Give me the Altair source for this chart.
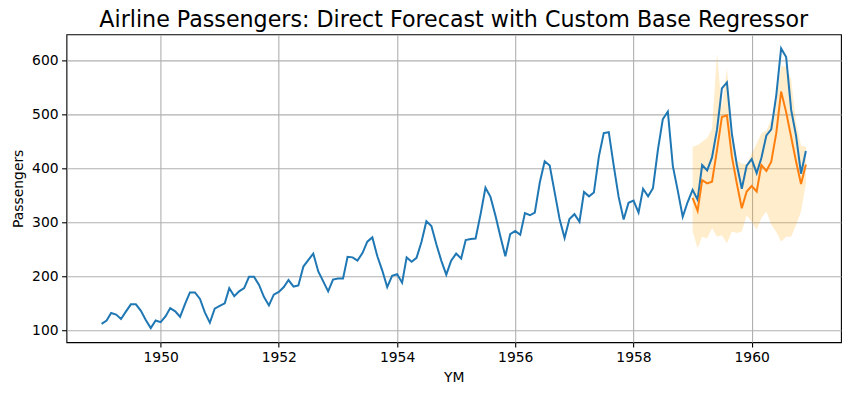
import altair as alt
import pandas as pd

# Monthly airline passengers 1949-01 .. 1960-12
years = list(range(1949, 1961))
passengers = [
    112, 118, 132, 129, 121, 135, 148, 148, 136, 119, 104, 118,
    115, 126, 141, 135, 125, 149, 170, 170, 158, 133, 114, 140,
    145, 150, 178, 163, 172, 178, 199, 199, 184, 162, 146, 166,
    171, 180, 193, 181, 183, 218, 230, 242, 209, 191, 172, 194,
    196, 196, 236, 235, 229, 243, 264, 272, 237, 211, 180, 201,
    204, 188, 235, 227, 234, 264, 302, 293, 259, 229, 203, 229,
    242, 233, 267, 269, 270, 315, 364, 347, 312, 274, 237, 278,
    284, 277, 317, 313, 318, 374, 413, 405, 355, 306, 271, 306,
    315, 301, 356, 348, 355, 422, 465, 467, 404, 347, 305, 336,
    340, 318, 362, 348, 363, 435, 491, 505, 404, 359, 310, 337,
    360, 342, 406, 396, 420, 472, 548, 559, 463, 407, 362, 405,
    417, 391, 419, 461, 472, 535, 622, 606, 508, 461, 390, 432,
]
months = [f"{y}-{m:02d}-01" for y in years for m in range(1, 13)]

# Forecast for 1959-01 .. 1960-12
fc_months = months[-24:]
forecast = [345, 321, 378, 372, 375, 434, 495, 498, 421, 372, 326, 357,
            367, 357, 406, 395, 412, 465, 542, 504, 458, 413, 371, 407]
lower = [283, 252, 273, 270, 289, 273, 276, 261, 283, 280, 283, 313,
         301, 286, 308, 320, 296, 282, 264, 273, 273, 295, 320, 372]
upper = [440, 443, 449, 456, 473, 613, 512, 585, 474, 414, 409, 408,
         427, 446, 465, 470, 490, 525, 589, 589, 565, 485, 442, 440]

year_ticks = [1950, 1952, 1954, 1956, 1958, 1960]
y_ticks = [100, 200, 300, 400, 500, 600]

hist = pd.DataFrame({"YM": months, "Passengers": passengers})
fc = pd.DataFrame({"YM": fc_months, "Forecast": forecast,
                   "Lower": lower, "Upper": upper})


def ms(s):
    return int(pd.Timestamp(s).value // 10**6)


x_domain = [ms("1948-05-29"), ms("1961-07-06")]
x_values = [ms(f"{y}-01-01") for y in year_ticks]

FONT = "DejaVu Sans"

x_enc = alt.X(
    "YM:T",
    scale=alt.Scale(type="utc", domain=x_domain, nice=False),
    axis=alt.Axis(values=x_values, format="%Y", formatType="utc", title="YM"),
)
y_scale = alt.Scale(domain=[77.9, 647.9], nice=False, zero=False)
y_axis = alt.Axis(values=y_ticks, title="Passengers")

band = alt.Chart(fc).mark_area(color="orange", opacity=0.2).encode(
    x=x_enc,
    y=alt.Y("Lower:Q", scale=y_scale, axis=y_axis),
    y2="Upper:Q",
)
blue = alt.Chart(hist).mark_line(color="#1f77b4", strokeWidth=2).encode(
    x=x_enc,
    y=alt.Y("Passengers:Q", scale=y_scale, axis=y_axis),
)
orange = alt.Chart(fc).mark_line(color="#ff7f0e", strokeWidth=2).encode(
    x=x_enc,
    y=alt.Y("Forecast:Q", scale=y_scale, axis=y_axis),
)

chart = alt.layer(band, blue, orange).properties(
    width=775,
    height=308,
    title=alt.TitleParams(
        text="Airline Passengers: Direct Forecast with Custom Base Regressor",
        fontSize=22.2, font=FONT, fontWeight="normal", color="black",
        anchor="middle", offset=3,
    ),
    autosize=alt.AutoSizeParams(type="none"),
    padding={"left": 58.5, "top": 26.3, "right": 1, "bottom": 45},
).configure_view(
    stroke="black", strokeWidth=1.1,
).configure_axis(
    labelFont=FONT, labelFontSize=13.9, labelColor="black",
    titleFont=FONT, titleFontSize=13.9, titleColor="black", titleFontWeight="normal",
    tickColor="black", tickSize=4.9, tickWidth=1.1, labelPadding=3.5,
    grid=True, gridColor="#b0b0b0", gridWidth=1.1,
    domain=False, labelFlush=False,
).configure_axisX(
    titlePadding=6,
).configure_axisY(
    titlePadding=6,
)

chart.save("out.html", embed_options={"renderer": "svg", "actions": False})
